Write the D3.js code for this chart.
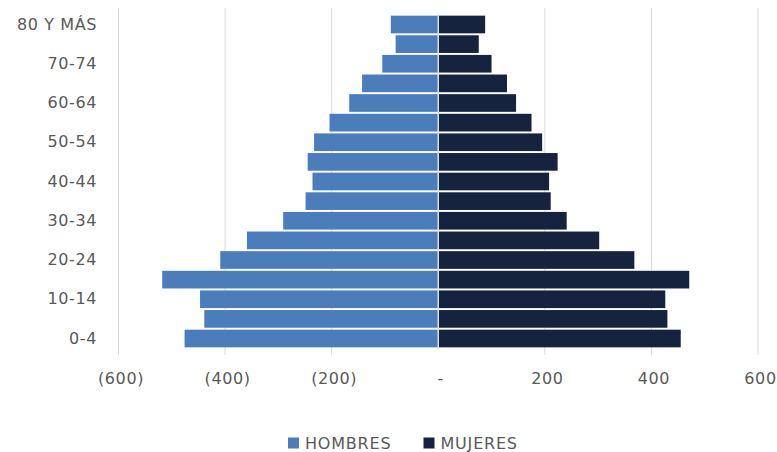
<!DOCTYPE html>
<html>
<head>
<meta charset="utf-8">
<script src="https://cdn.jsdelivr.net/npm/d3@7"></script>
<style>
  body { margin: 0; background: #fff; }
  svg text { font-family: "DejaVu Sans", sans-serif; fill: #595959; }
</style>
</head>
<body>
<div class="pyramid"></div>
<script>
// age groups, bottom to top
const ageGroups = ["0-4", "5-9", "10-14", "15-19", "20-24", "25-29", "30-34", "35-39",
  "40-44", "45-49", "50-54", "55-59", "60-64", "65-69", "70-74", "75-79", "80 Y MÁS"];
const hombres = [476, 439, 447, 518, 409, 359, 291, 249, 236, 245, 233, 204, 167, 143, 105, 80, 89];
const mujeres = [455, 430, 426, 471, 368, 302, 241, 211, 208, 224, 195, 175, 146, 129, 100, 76, 88];
const xTicks = [-600, -400, -200, 0, 200, 400, 600];
const seriesNames = ["HOMBRES", "MUJERES"];
const seriesColors = ["#4a7dba", "#15233f"];

function drawPyramid() {
  const W = 777, H = 452;
  const svg = d3.select(".pyramid")
    .append("svg")
    .attr("width", W)
    .attr("height", H);

  const x = d3.scaleLinear()
    .domain([-600, 600])
    .range([118.5, 758]);

  // top of chart is the oldest group
  const y = d3.scaleBand()
    .domain(ageGroups.slice().reverse())
    .range([8, 355])
    .paddingInner(0.1)
    .paddingOuter(0.39);

  // gridlines
  svg.append("g")
    .selectAll("line")
    .data(xTicks.filter(d => d !== 0))
    .enter()
    .append("line")
    .attr("x1", d => x(d))
    .attr("x2", d => x(d))
    .attr("y1", y.range()[0])
    .attr("y2", y.range()[1])
    .attr("stroke", "#d9d9d9")
    .attr("stroke-width", 1);

  const rows = ageGroups.map((g, i) => ({ g, h: hombres[i], m: mujeres[i] }));

  // men to the left
  svg.append("g")
    .selectAll("rect")
    .data(rows)
    .enter()
    .append("rect")
    .attr("x", d => x(-d.h))
    .attr("y", d => y(d.g))
    .attr("width", d => x(0) - x(-d.h))
    .attr("height", y.bandwidth())
    .attr("fill", seriesColors[0]);

  // women to the right
  svg.append("g")
    .selectAll("rect")
    .data(rows)
    .enter()
    .append("rect")
    .attr("x", x(0))
    .attr("y", d => y(d.g))
    .attr("width", d => x(d.m) - x(0))
    .attr("height", y.bandwidth())
    .attr("fill", seriesColors[1]);

  // vertical axis line at zero
  svg.append("line")
    .attr("x1", x(0))
    .attr("x2", x(0))
    .attr("y1", y.range()[0] + 6)
    .attr("y2", y.range()[1] - 6)
    .attr("stroke", "#d6e2ef")
    .attr("stroke-width", 1.5);

  // Y labels, every other group
  const yAxis = d3.axisLeft(y)
    .tickSize(0)
    .tickPadding(0)
    .tickValues(ageGroups.filter((d, i) => i % 2 === 0));
  const ya = svg.append("g")
    .attr("transform", "translate(97,0)")
    .call(yAxis);
  ya.select(".domain").remove();
  ya.selectAll("text")
    .attr("font-size", "16px")
    .attr("letter-spacing", "0.6px")
    .attr("font-family", null)
    .attr("fill", null);

  // X labels
  const xAxis = d3.axisBottom(x)
    .tickValues(xTicks)
    .tickSize(0)
    .tickPadding(0)
    .tickFormat(d => d < 0 ? `(${-d})` : d === 0 ? "-" : `${d}`);
  const xa = svg.append("g")
    .attr("transform", "translate(2,373)")
    .call(xAxis);
  xa.select(".domain").remove();
  xa.selectAll("text")
    .attr("font-size", "16px")
    .attr("letter-spacing", "0.6px")
    .attr("font-family", null)
    .attr("fill", null);

  // legend
  const legendX = [288, 423.5];
  const legend = svg.append("g");
  seriesNames.forEach((name, i) => {
    legend.append("rect")
      .attr("x", legendX[i])
      .attr("y", 437.5)
      .attr("width", 11)
      .attr("height", 11)
      .attr("fill", seriesColors[i]);
    legend.append("text")
      .attr("x", legendX[i] + 17)
      .attr("y", 443)
      .attr("dy", "0.36em")
      .attr("font-size", "16px")
      .attr("letter-spacing", "0.8px")
      .text(name);
  });
}

drawPyramid();
</script>
</body>
</html>
